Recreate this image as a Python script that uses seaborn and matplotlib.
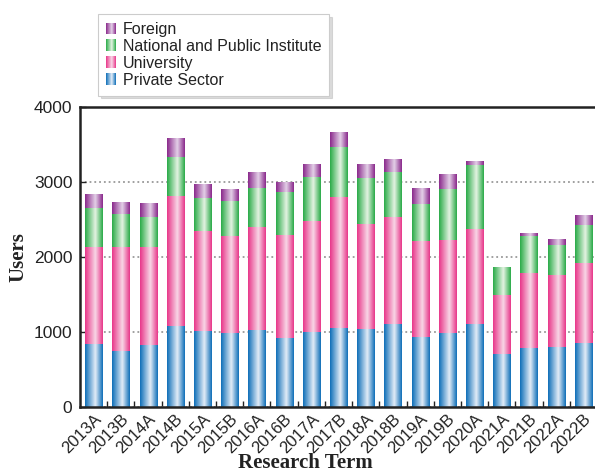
import numpy as np
import pandas as pd
import matplotlib
matplotlib.use("Agg")
from matplotlib import pyplot as plt
from matplotlib.colors import LinearSegmentedColormap
from matplotlib.legend_handler import HandlerBase
from matplotlib.patches import Patch, Rectangle
import seaborn as sns

terms = ['2013A', '2013B', '2014A', '2014B', '2015A', '2015B', '2016A', '2016B',
         '2017A', '2017B', '2018A', '2018B', '2019A', '2019B', '2020A', '2021A',
         '2021B', '2022A', '2022B']
private = [837, 744, 824, 1078, 1011, 984, 1024, 918, 998, 1051, 1038, 1105,
           931, 984, 1105, 704, 784, 797, 851]
university = [1288, 1381, 1301, 1724, 1323, 1283, 1368, 1367, 1470, 1737, 1390,
              1421, 1274, 1230, 1260, 788, 1002, 962, 1069]
national = [516, 436, 396, 521, 441, 468, 517, 570, 588, 669, 614, 596, 490,
            686, 851, 365, 481, 401, 499]
foreign = [188, 161, 187, 254, 187, 160, 213, 134, 173, 200, 187, 174, 214,
           196, 54, 9, 40, 67, 129]

series = ['Private Sector', 'University', 'National and Public Institute', 'Foreign']
dark = ['#0f6fb8', '#e8378a', '#2aab48', '#8a2a8c']
light = ['#e2ecf7', '#f8d6e6', '#e4f3e2', '#e3d0e7']

df = pd.DataFrame({'term': terms, series[0]: private, series[1]: university,
                   series[2]: national, series[3]: foreign})
cum = df[series].cumsum(axis=1)

cmaps = [LinearSegmentedColormap.from_list(s, [(0, d), (0.58, l), (1, d)])
         for s, d, l in zip(series, dark, light)]

sns.set_theme(style="white")
plt.rcParams['font.family'] = ['Liberation Sans', 'DejaVu Sans']

fig = plt.figure(figsize=(5.95, 4.74), dpi=100)
ax = fig.add_axes([80 / 595, 67 / 474, 517 / 595, 300 / 474])

# stacked by drawing cumulative totals from the top down
grad = np.linspace(0, 1, 64).reshape(1, -1)
for k in range(3, -1, -1):
    n0 = len(ax.patches)
    sns.barplot(x=df['term'], y=cum[series[k]], color=dark[k], width=0.625,
                saturation=1, ax=ax)
    for p in ax.patches[n0:]:
        x0, y0 = p.get_x(), p.get_y()
        w, h = p.get_width(), p.get_height()
        ax.imshow(grad, cmap=cmaps[k], aspect='auto', extent=(x0, x0 + w, y0, y0 + h),
                  zorder=2 + (3 - k) * 0.1, interpolation='bilinear')
        p.set_visible(False)

ax.set_xlim(-0.5, 18.5)
ax.set_ylim(0, 4000)
ax.set_yticks([0, 1000, 2000, 3000, 4000])
ax.yaxis.grid(True, linestyle=':', color='#999999', linewidth=1.3)
ax.set_axisbelow(True)

for s in ['left', 'bottom', 'top']:
    ax.spines[s].set_color('#222222')
    ax.spines[s].set_linewidth(1.8)
ax.spines['right'].set_visible(False)

ax.tick_params(axis='y', direction='in', length=4, width=1, color='#222222',
               labelsize=12.5, labelcolor='#222222', pad=5.5, left=True)
ax.tick_params(axis='x', which='major', length=0, labelsize=12,
               labelcolor='#222222', pad=3)
ax.set_xticks(np.arange(len(terms) - 1) + 0.5, minor=True)
ax.tick_params(axis='x', which='minor', direction='in', length=4, width=1,
               color='#222222', bottom=True)
for lab in ax.get_xticklabels():
    lab.set_rotation(45)
    lab.set_ha('right')
    lab.set_va('top')
    lab.set_rotation_mode('anchor')

ax.set_xlabel('Research Term', family='Liberation Serif', fontweight='bold',
              fontsize=15, color='#222222')
ax.set_ylabel('Users', family='Liberation Serif', fontweight='bold',
              fontsize=15, color='#222222')
ax.xaxis.set_label_coords(0.435, -0.155)
ax.yaxis.set_label_coords(-0.10, 0.5)


class GradHandler(HandlerBase):
    def __init__(self, cmap):
        super().__init__()
        self.cmap = cmap

    def create_artists(self, legend, orig_handle, xdescent, ydescent, width,
                       height, fontsize, trans):
        n = 10
        return [Rectangle((-xdescent + width * i / n, -ydescent), width / n, height,
                          facecolor=self.cmap((i + 0.5) / n), edgecolor='none',
                          transform=trans) for i in range(n)]


handles = [Patch(label=series[k]) for k in range(3, -1, -1)]
hmap = {h: GradHandler(cmaps[k]) for h, k in zip(handles, range(3, -1, -1))}
leg = fig.legend(handles=handles, handler_map=hmap, loc='upper left',
                 bbox_to_anchor=(98 / 595, 1 - 14 / 474), borderaxespad=0,
                 fontsize=11.5, frameon=True, fancybox=False,
                 shadow={'color': '#b8b8b8', 'ox': 2, 'oy': -2, 'alpha': 0.5},
                 handlelength=0.65, handleheight=0.75, handletextpad=0.4,
                 labelspacing=0.12, borderpad=0.5, edgecolor='#cccccc')
leg.get_frame().set_linewidth(0.8)
for t in leg.get_texts():
    t.set_color('#222222')

fig.savefig('out.png', dpi=100)
